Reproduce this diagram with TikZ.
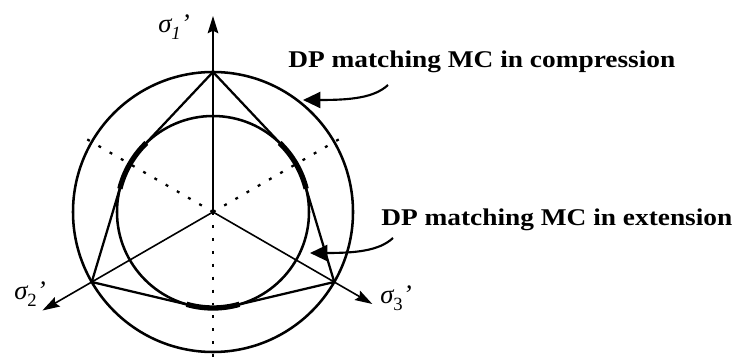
\documentclass[tikz,border=0pt]{standalone}
\usepackage{fontspec}
\newfontfamily\labfont[FakeStretch=1.14]{Liberation Serif}
\newfontfamily\sigfont{Liberation Serif}
\usetikzlibrary{arrows.meta}
\newcommand{\sigsub}[1]{\raisebox{-0.28em}{\fontsize{14}{14}\selectfont #1}}
\begin{document}
\begin{tikzpicture}[x=0.75pt,y=0.75pt,
  circ/.style={line width=1.9pt},
  hullline/.style={line width=1.7pt},
  hullarc/.style={line width=4pt},
  axisarrow/.style={line width=1.2pt,-{Stealth[length=13pt,width=8pt,inset=2pt]}},
  dotline/.style={line width=1.7pt,dash pattern=on 2.2pt off 7.5pt},
  callout/.style={line width=1.6pt,-{Triangle[length=13pt,width=12pt]}},
  lab/.style={font=\labfont\bfseries\fontsize{18}{20}\selectfont,anchor=base west,inner sep=0pt},
  sig/.style={font=\sigfont\fontsize{20}{22}\selectfont,inner sep=0pt}]
\useasboundingbox (0,0) rectangle (748,360);
\begin{scope}[shift={(213,148)}]
  \coordinate (O) at (0,0);
  % compression vertices
  \coordinate (C1) at (90:140);
  \coordinate (C2) at (210:140);
  \coordinate (C3) at (330:140);
  % tangent points on inner circle
  \coordinate (T1) at (136.7:96);
  \coordinate (T2) at (163.3:96);
  \coordinate (T3) at (256.7:96);
  \coordinate (T4) at (283.3:96);
  \coordinate (T5) at (16.7:96);
  \coordinate (T6) at (43.3:96);
  % axis tips
  \coordinate (S1) at (90:196);
  \coordinate (S2) at (210:197);
  \coordinate (S3) at (330:184);
  % dotted ends
  \coordinate (D1) at (30:147);
  \coordinate (D2) at (150:147);
  \coordinate (D3) at (270:147);
  % circles
  \draw[circ] (O) circle[radius=140];
  \draw[circ] (O) circle[radius=96];
  % dotted lines
  \draw[dotline] (O) -- (D1);
  \draw[dotline] (O) -- (D2);
  \draw[dotline] (O) -- (D3);
  % hull lines
  \draw[hullline] (C1) -- (T1);
  \draw[hullline] (T2) -- (C2) -- (T3);
  \draw[hullline] (T4) -- (C3) -- (T5);
  \draw[hullline] (T6) -- (C1);
  % hull arcs
  \draw[hullarc] (134:96) arc[start angle=134,end angle=166,radius=96];
  \draw[hullarc] (254:96) arc[start angle=254,end angle=286,radius=96];
  \draw[hullarc] (14:96) arc[start angle=14,end angle=46,radius=96];
  % axes
  \draw[axisarrow] (O) -- (S1);
  \draw[axisarrow] (O) -- (S2);
  \draw[axisarrow] (O) -- (S3);
\end{scope}
% sigma labels
\node[sig] (L1) at (174,333) {\itshape σ\sigsub{1}’};
\node[sig] (L2) at (30,66) {\itshape σ\sigsub{\upshape 2}’};
\node[sig] (L3) at (396,62) {\itshape σ\sigsub{\upshape 3}’};
% callouts
\node[lab] (TC) at (288,292) {DP matching MC in compression};
\node[lab] (TE) at (381,134) {DP matching MC in extension};
\coordinate (A1s) at (388,275);
\coordinate (A1t) at (303,260);
\coordinate (A2s) at (393,122);
\coordinate (A2t) at (310,107);
\draw[callout] (A1s) .. controls (374,262) and (350,260) .. (A1t);
\draw[callout] (A2s) .. controls (379,109) and (355,107) .. (A2t);
\end{tikzpicture}
\end{document}
